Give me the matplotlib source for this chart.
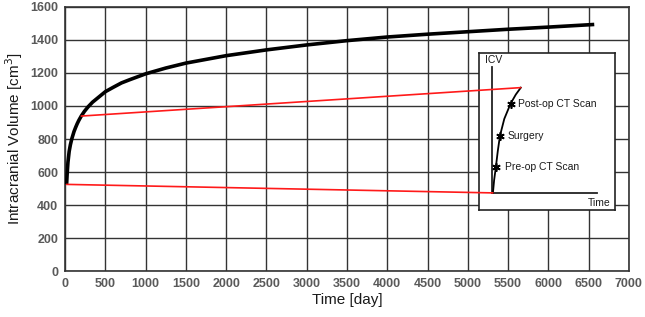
import matplotlib.pyplot as plt
from matplotlib.patches import ConnectionPatch

plt.rcParams['font.family'] = ['Liberation Sans', 'DejaVu Sans']

# ICV growth curve (days, cm3)
dias = [18, 25, 35, 50, 65, 82, 110, 130, 150, 170, 200, 240, 285, 340, 400, 500, 600,
        700, 800, 1000, 1250, 1500, 2000, 2500, 3000, 3500, 4000, 4500, 5000, 5500,
        6000, 6570]
icv = [525, 590, 660, 725, 765, 800, 845, 870, 893, 913, 939, 968, 995, 1023, 1047, 1087, 1114,
       1140, 1159, 1195, 1230, 1260, 1305, 1340, 1370, 1396, 1418, 1435, 1450, 1465,
       1478, 1494]

# Schematic inset curve (axes fraction)
esq_x = [0.101, 0.110, 0.123, 0.137, 0.153, 0.185, 0.231, 0.270, 0.307]
esq_y = [0.108, 0.190, 0.274, 0.375, 0.472, 0.580, 0.676, 0.735, 0.779]
marcos_x = [0.123, 0.153, 0.231]
marcos_y = [0.274, 0.472, 0.676]
marcos_txt = ['Pre-op CT Scan', 'Surgery', 'Post-op CT Scan']

# Zoom connectors: main-axes point -> inset point
zoom_main = [(18, 525), (200, 939)]
zoom_inset = [(0.101, 0.108), (0.307, 0.779)]

fig = plt.figure(figsize=(6.45, 3.17), dpi=100)
ax = fig.add_axes([0.101, 0.145, 0.874, 0.833])

ax.plot(dias, icv, color='black', lw=2.6, zorder=3, solid_capstyle='butt')

ax.set_xlim(0, 7000)
ax.set_ylim(0, 1600)
ax.set_xticks(range(0, 7001, 500))
ax.set_yticks(range(0, 1601, 200))
ax.grid(True, color='#333333', lw=1.0)
ax.set_axisbelow(True)
for s in ax.spines.values():
    s.set_color('#333333')
    s.set_linewidth(1.2)
ax.tick_params(length=0, pad=5, labelsize=9, labelcolor='#595959')
for lb in ax.get_xticklabels() + ax.get_yticklabels():
    lb.set_fontweight('bold')

ax.set_xlabel('Time [day]', fontsize=11, color='#1a1a1a', labelpad=2)
ax.set_ylabel('Intracranial Volume [cm$^3$]', fontsize=11, color='#1a1a1a', labelpad=4)

# Inset
ins = fig.add_axes([0.743, 0.338, 0.210, 0.495])
ins.set_xlim(0, 1)
ins.set_ylim(0, 1)
ins.set_xticks([])
ins.set_yticks([])
for s in ins.spines.values():
    s.set_color('#222222')
    s.set_linewidth(1.2)
ins.plot([0.096, 0.096], [0.107, 0.908], color='#222222', lw=1.3)
ins.plot([0.096, 0.872], [0.107, 0.107], color='#222222', lw=1.3)
ins.plot(esq_x, esq_y, color='black', lw=1.3)
ins.plot(marcos_x, marcos_y, ls='none', marker=(6, 2, 0), ms=6, mew=1.2, color='black')
offs = [0.065, 0.055, 0.055]
for mx, my, t, o in zip(marcos_x, marcos_y, marcos_txt, offs):
    ins.text(mx + o, my, t, fontsize=7.5, va='center', ha='left', color='#1a1a1a')
ins.text(0.042, 0.955, 'ICV', fontsize=7.5, va='center', ha='left', color='#1a1a1a')
ins.text(0.97, 0.045, 'Time', fontsize=7.5, va='center', ha='right', color='#1a1a1a')

for pa, pb in zip(zoom_main, zoom_inset):
    con = ConnectionPatch(xyA=pa, coordsA=ax.transData, xyB=pb, coordsB=ins.transData,
                          color='#ff1a1a', lw=1.2, zorder=10)
    fig.add_artist(con)

plt.savefig('out.png', dpi=100)
